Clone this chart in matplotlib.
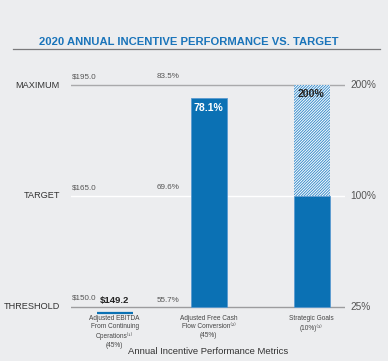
import matplotlib
matplotlib.use("Agg")
import matplotlib.pyplot as plt

# ---- data ----
categories = ["Adjusted EBITDA\nFrom Continuing\nOperations⁽¹⁾\n(45%)",
              "Adjusted Free Cash\nFlow Conversion⁽²⁾\n(45%)",
              "Strategic Goals\n(10%)⁽³⁾"]
level_names = ["THRESHOLD", "TARGET", "MAXIMUM"]
level_values = [0, 1, 2]
ebitda_levels = ["$150.0", "$165.0", "$195.0"]
fcf_levels = ["55.7%", "69.6%", "83.5%"]
payout_labels = ["25%", "100%", "200%"]
ebitda_actual = 149.2
ebitda_thresh, ebitda_target = 150.0, 165.0
fcf_level = 1.886          # bar top (performance level units)
strategic_solid = 1.0      # solid up to target
strategic_total = 2.0      # hatched up to maximum
value_labels = ["$149.2", "78.1%", "200%"]

# ---- layout ----
W, H = 388, 361
BLUE = "#0B71B4"
BG = "#ECEDEF"
FAM = ["Liberation Sans", "DejaVu Sans"]
plt.rcParams["font.family"] = FAM
plt.rcParams["hatch.linewidth"] = 0.7

fig = plt.figure(figsize=(W / 100, H / 100), dpi=100, facecolor=BG)

y0, y1 = 306.7, 196.0   # pixel rows of level 0 and 1
ppl = y0 - y1
def lev(p):
    return (y0 - p) / ppl

top_px, bot_px = 60, 322
ax = fig.add_axes([71 / W, 1 - bot_px / H, (345 - 71) / W, (bot_px - top_px) / H])
ax.set_facecolor("none")
ax.set_xlim(71, 345)
ax.set_ylim(lev(bot_px), lev(top_px))
ax.axis("off")

xs = [114.7, 208.5, 311.5]
bw = 36

# level lines
ax.axhline(level_values[2], color="#A9A9AB", lw=1.0, zorder=1)
ax.axhline(level_values[1], color="white", lw=1.0, zorder=1)
ax.axhline(level_values[0], color="#9C9C9E", lw=1.0, zorder=1)

# EBITDA bar (below threshold -> thin line)
eb = (ebitda_actual - ebitda_thresh) / (ebitda_target - ebitda_thresh)
ax.plot([xs[0] - bw / 2, xs[0] + bw / 2], [eb, eb], color=BLUE, lw=1.6,
        solid_capstyle="butt", zorder=3)

# FCF bar
ax.bar(xs[1], fcf_level, width=bw, bottom=0, color=BLUE, edgecolor="#5A9AD0",
       lw=0.6, zorder=2)
# Strategic bar
ax.bar(xs[2], strategic_solid, width=bw, bottom=0, color=BLUE, edgecolor="#5A9AD0",
       lw=0.6, zorder=2)
ax.bar(xs[2], strategic_total - strategic_solid, width=bw, bottom=strategic_solid,
       color="white", edgecolor="#3A8DCB", hatch="////////////", lw=0, zorder=2)

# value labels
ax.text(xs[1], lev(107.7), value_labels[1], color="white", fontsize=7.6,
        fontweight="bold", ha="center", va="center", zorder=4)
ax.text(xs[2], lev(94), value_labels[2], color="#222222", fontsize=7.6,
        fontweight="bold", ha="center", va="center", zorder=4)
ax.text(100, lev(300), value_labels[0], color="#222222", fontsize=6.8,
        fontweight="bold", ha="left", va="center", zorder=4)

# small level annotations
ebitda_y = [lev(298), lev(187.5), lev(77)]
fcf_y = [lev(301), lev(187.5), lev(77)]
for i in range(3):
    ax.text(72, ebitda_y[i], ebitda_levels[i], color="#555555", fontsize=5.8,
            ha="left", va="center", clip_on=False)
    ax.text(157, fcf_y[i], fcf_levels[i],
            color="#555555", fontsize=5.8, ha="left", va="center", clip_on=False)
    ax.text(60, level_values[i], level_names[i], color="#333333", fontsize=6.6,
            ha="right", va="center", clip_on=False)
    ax.text(350, level_values[i], payout_labels[i], color="#555555", fontsize=7.3,
            ha="left", va="center", clip_on=False)

# category labels
for x, c in zip(xs, categories):
    ax.text(x, lev(315), c, color="#444444", fontsize=4.7, ha="center", va="top",
            linespacing=1.3, clip_on=False)

fig.text(208 / W, 1 - 351 / H, "Annual Incentive Performance Metrics",
         color="#333333", fontsize=6.8, ha="center", va="center")

# title
fig.text(189 / W, 1 - 41.7 / H, "2020 ANNUAL INCENTIVE PERFORMANCE VS. TARGET",
         color="#1A74BA", fontsize=8.1, fontweight="bold", ha="center", va="center")
fig.add_artist(plt.Line2D([13 / W, 380 / W], [1 - 49.3 / H, 1 - 49.3 / H],
                          color="#7A7A7C", lw=0.9))

fig.savefig("out.png", dpi=100, facecolor=BG)
